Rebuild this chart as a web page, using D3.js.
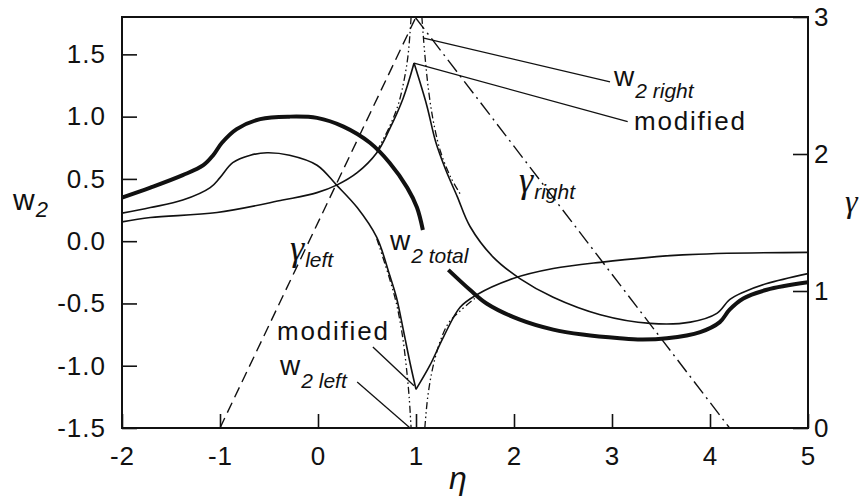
<!DOCTYPE html>
<html>
<head>
<meta charset="utf-8">
<script src="https://cdn.jsdelivr.net/npm/d3@7"></script>
<style>
  body { margin: 0; background: #fff; }
  svg text { font-family: "Liberation Sans", Arial, sans-serif; fill: #111; }
</style>
</head>
<body>
<svg id="chart"></svg>
<script>
// ---- data ----
const etaTicks = [-2, -1, 0, 1, 2, 3, 4, 5];
const w2Ticks = [-1.5, -1.0, -0.5, 0.0, 0.5, 1.0, 1.5];
const gammaTicks = [0, 1, 2, 3];

// w2 total (thick), split where the label covers it
const w2TotalLeft = [[-2, 0.35], [-1.71, 0.43], [-1.38, 0.53], [-1.17, 0.61], [-1.07, 0.69], [-0.98, 0.79],
  [-0.83, 0.9], [-0.59, 0.98], [-0.29, 1.0], [-0.01, 0.99], [0.26, 0.92], [0.53, 0.79], [0.73, 0.63],
  [0.91, 0.43], [1.01, 0.27], [1.07, 0.09]];
const w2TotalRight = [[1.33, -0.23], [1.55, -0.39], [1.72, -0.5], [2.06, -0.63], [2.4, -0.71], [2.7, -0.75],
  [3.08, -0.78], [3.3, -0.79], [3.56, -0.78], [3.9, -0.73], [4.1, -0.65], [4.2, -0.55], [4.34, -0.46],
  [4.58, -0.39], [5, -0.33]];

// modified w2 right (thin solid)
const w2RightMod = [[-2, 0.155], [-1.71, 0.19], [-1.03, 0.23], [-0.36, 0.33], [-0.01, 0.39], [0.19, 0.45],
  [0.4, 0.55], [0.6, 0.71], [0.73, 0.9], [0.87, 1.15], [0.98, 1.43], [1.11, 1.09], [1.2, 0.8], [1.3, 0.58],
  [1.42, 0.36], [1.55, 0.12], [1.79, -0.13], [2.06, -0.3], [2.4, -0.45], [2.88, -0.59], [3.39, -0.66],
  [3.8, -0.65], [4.07, -0.58], [4.2, -0.47], [4.34, -0.41], [4.58, -0.34], [5, -0.26]];

// modified w2 left (thin solid)
const w2LeftMod = [[-2, 0.225], [-1.71, 0.27], [-1.38, 0.33], [-1.1, 0.43], [-1.0, 0.51],
  [-0.87, 0.63], [-0.69, 0.69], [-0.52, 0.71], [-0.29, 0.69], [-0.01, 0.61], [0.19, 0.45], [0.4, 0.27],
  [0.6, 0.03], [0.73, -0.27], [0.8, -0.45], [0.87, -0.71], [0.94, -0.98], [1.0, -1.19], [1.14, -1.0],
  [1.28, -0.77], [1.45, -0.53], [1.62, -0.43], [1.99, -0.3], [2.4, -0.22], [2.88, -0.17], [3.72, -0.11],
  [5, -0.09]];

// original (unmodified) branches near the pole, dash-dot-dot
const w2RightOrigA = [[0.6, 0.72], [0.73, 0.92], [0.82, 1.1], [0.88, 1.3], [0.92, 1.5], [0.95, 1.8]];
const w2RightOrigB = [[1.06, 1.8], [1.09, 1.5], [1.13, 1.2], [1.18, 0.95], [1.25, 0.72], [1.35, 0.52], [1.45, 0.38]];
const w2LeftOrigA = [[0.6, 0.02], [0.73, -0.3], [0.8, -0.5], [0.86, -0.75], [0.9, -1.0], [0.93, -1.25], [0.95, -1.5]];
const w2LeftOrigB = [[1.09, -1.5], [1.12, -1.25], [1.17, -1.02], [1.24, -0.82], [1.33, -0.66], [1.45, -0.56], [1.6, -0.46]];

// gamma (right axis)
const gammaLeft = [[-1, 0], [1, 3]];
const gammaRight = [[0.99, 3], [4.2, 0]];

// ---- layout ----
const svgWidth = 862, svgHeight = 499;
const margin = { top: 17, right: 54, bottom: 71, left: 122 };
const innerWidth = svgWidth - margin.left - margin.right;
const innerHeight = svgHeight - margin.top - margin.bottom;

const svg = d3.select('#chart').attr('width', svgWidth).attr('height', svgHeight);
const g = svg.append('g').attr('transform', `translate(${margin.left},${margin.top})`);

const x = d3.scaleLinear().domain([-2, 5]).range([0, innerWidth]);
const y = d3.scaleLinear().domain([-1.5, 1.8]).range([innerHeight, 0]);
const yg = d3.scaleLinear().domain([0, 3]).range([innerHeight, 0]);

const lineG = d3.line().x(d => x(d[0])).y(d => yg(d[1]));
const lineRaw = d3.line().x(d => x(d[0])).y(d => y(d[1])).curve(d3.curveCatmullRom);

g.append('clipPath').attr('id', 'clip').append('rect')
  .attr('width', innerWidth).attr('height', innerHeight);
const curves = g.append('g').attr('clip-path', 'url(#clip)');

function drawPath(data, gen, width, dash) {
  curves.append('path').datum(data)
    .attr('fill', 'none').attr('stroke', '#111')
    .attr('stroke-width', width)
    .attr('stroke-dasharray', dash || null)
    .attr('d', gen);
}

// gamma lines
drawPath(gammaLeft, lineG, 1.4, '11,6');
drawPath(gammaRight, lineG, 1.4, '15,5,2,5');

// original branches
const dd = '7,3,1.5,3,1.5,3';
drawPath(w2RightOrigA, lineRaw, 1.3, dd);
drawPath(w2RightOrigB, lineRaw, 1.3, dd);
drawPath(w2LeftOrigA, lineRaw, 1.3, dd);
drawPath(w2LeftOrigB, lineRaw, 1.3, dd);

// modified curves (cusps kept sharp by splitting at the extreme)
function splitAt(data, eta) {
  return [data.filter(d => d[0] <= eta), data.filter(d => d[0] >= eta)];
}
splitAt(w2RightMod, 0.98).forEach(part => drawPath(part, lineRaw, 1.6));
splitAt(w2LeftMod, 1.0).forEach(part => drawPath(part, lineRaw, 1.6));

// total
drawPath(w2TotalLeft, lineRaw, 4);
drawPath(w2TotalRight, lineRaw, 4);

// ---- axes ----
const fmt1 = d => d.toFixed(1);
const axisLeft = g.append('g')
  .call(d3.axisLeft(y).tickValues(w2Ticks).tickFormat(fmt1).tickSizeInner(-15).tickSizeOuter(0).tickPadding(16));
const axisBottom = g.append('g').attr('transform', `translate(0,${innerHeight})`)
  .call(d3.axisBottom(x).tickValues(etaTicks).tickFormat(d => String(d)).tickSizeInner(-14).tickSizeOuter(0).tickPadding(19));
const axisRight = g.append('g').attr('transform', `translate(${innerWidth},0)`)
  .call(d3.axisRight(yg).tickValues(gammaTicks).tickFormat(d => String(d)).tickSizeInner(-15).tickSizeOuter(0).tickPadding(6));

[axisLeft, axisBottom, axisRight].forEach(a => {
  a.select('.domain').remove();
  a.selectAll('line').attr('stroke', '#111').attr('stroke-width', 1.6);
  a.selectAll('text').attr('font-size', 26).attr('letter-spacing', 1)
    .attr('font-family', '"Liberation Sans", Arial, sans-serif').attr('fill', '#111');
});

// frame
g.append('rect').attr('width', innerWidth).attr('height', innerHeight)
  .attr('fill', 'none').attr('stroke', '#111').attr('stroke-width', 2);

// ---- annotations ----
const leaders = [
  [[1.08, 1.63], [2.98, 1.28]],
  [[0.98, 1.43], [3.16, 0.96]],
  [[0.56, -0.85], [0.98, -1.16]],
  [[0.40, -1.13], [0.94, -1.5]]
];
leaders.forEach(l => {
  g.append('line')
    .attr('x1', x(l[0][0])).attr('y1', y(l[0][1]))
    .attr('x2', x(l[1][0])).attr('y2', y(l[1][1]))
    .attr('stroke', '#111').attr('stroke-width', 1.3);
});

// label helper: main text + optional italic subscript
function label(px, py, main, sub, opts) {
  opts = opts || {};
  const t = svg.append('text').attr('x', px).attr('y', py);
  t.append('tspan').text(main)
    .attr('font-size', opts.size || 28)
    .attr('letter-spacing', opts.spacing || null)
    .attr('font-style', opts.mainItalic ? 'italic' : null)
    .attr('font-family', opts.serif ? '"Liberation Serif", "DejaVu Serif", serif' : null);
  if (sub) {
    t.append('tspan').text(sub)
      .attr('font-size', opts.subSize || 21)
      .attr('font-style', 'italic')
      .attr('dx', opts.subDx || 1)
      .attr('dy', opts.subDy || 12);
  }
  return t;
}

label(13, 210, 'w', '2', { size: 30, subSize: 22, subDy: 7, subDx: 0 });
label(845, 212, 'γ', null, { size: 32, serif: true, mainItalic: true });
svg.append('text').attr('x', 458).attr('y', 489).attr('text-anchor', 'middle')
  .attr('font-size', 32).attr('font-style', 'italic')
  .attr('font-family', '"Liberation Serif", "DejaVu Serif", serif').text('η');

label(390, 250, 'w', '2 total', { subDy: 13 });
label(290, 260, 'γ', 'left', { size: 36, serif: true, mainItalic: true, subDy: 7 });
label(519, 192, 'γ', 'right', { size: 36, serif: true, mainItalic: true, subDy: 7 });
label(277, 340, 'modified', null, { size: 26, spacing: 1.8 });
label(280, 375, 'w', '2 left', { subDy: 13 });
label(614, 86, 'w', '2 right', { subDy: 12 });
label(634, 130, 'modified', null, { size: 26, spacing: 1.8 });
</script>
</body>
</html>
